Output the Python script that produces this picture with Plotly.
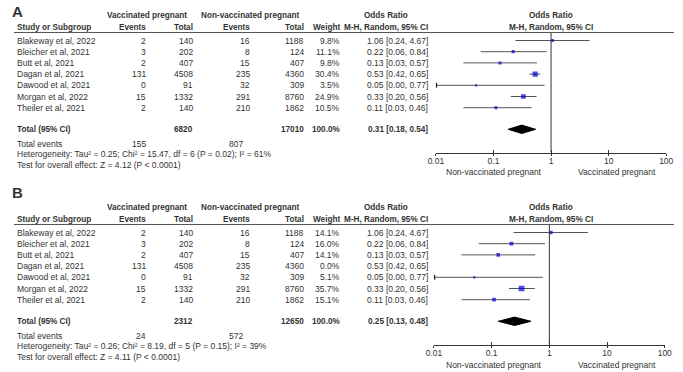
import plotly.graph_objects as go

# ---------------- data ----------------
studies = ["Blakeway et al, 2022", "Bleicher et al, 2021", "Butt et al, 2021", "Dagan et al, 2021",
           "Dawood et al, 2021", "Morgan et al, 2022", "Theiler et al, 2021"]
vac_events = [2, 3, 2, 131, 0, 15, 2]
vac_total = [140, 202, 407, 4508, 91, 1332, 140]
nonvac_events = [16, 8, 15, 235, 32, 291, 210]
nonvac_total = [1188, 124, 407, 4360, 309, 8760, 1862]
or_est = [1.06, 0.22, 0.13, 0.53, 0.05, 0.33, 0.11]
or_lo = [0.24, 0.06, 0.03, 0.42, 0.00, 0.20, 0.03]
or_hi = [4.67, 0.84, 0.57, 0.65, 0.77, 0.56, 0.46]
weights_a = [9.8, 11.1, 9.8, 30.4, 3.5, 24.9, 10.5]
weights_b = [14.1, 16.0, 14.1, 0.0, 5.1, 35.7, 15.1]

totals_a = dict(vac_total=6820, nonvac_total=17010, vac_events=155, nonvac_events=807,
                est=0.31, lo=0.18, hi=0.54,
                het="Heterogeneity: Tau² = 0.25; Chi² = 15.47, df = 6 (P = 0.02); I² = 61%",
                test="Test for overall effect: Z = 4.12 (P < 0.0001)")
totals_b = dict(vac_total=2312, nonvac_total=12650, vac_events=24, nonvac_events=572,
                est=0.25, lo=0.13, hi=0.48,
                het="Heterogeneity: Tau² = 0.26; Chi² = 8.19, df = 5 (P = 0.15); I² = 39%",
                test="Test for overall effect: Z = 4.11 (P < 0.0001)")

tick_vals = [0.01, 0.1, 1, 10, 100]
tick_text = ["0.01", "0.1", "1", "10", "100"]

# ---------------- style / layout ----------------
W, H = 683, 372
FONT = "Liberation Sans, Arial, sans-serif"
TXT = "#333333"
FS = 8.5
FSB = 8.2
BLUE = "#0000cc"
AXMIN = 0.01

fig = go.Figure()
annotations = []
shapes = []


def px(x):
    return x / W


def py(y):
    return 1 - y / H


def text(x, y, s, anchor="left", bold=False, size=None):
    if size is None:
        size = FSB if bold else FS
    annotations.append(dict(
        x=px(x), y=py(y), xref="paper", yref="paper", text=("<b>%s</b>" % s) if bold else s,
        showarrow=False, xanchor=anchor, yanchor="middle", borderpad=0,
        font=dict(family=FONT, size=size, color=TXT)))


def panel(letter, off, letter_y, weights, tot, xa, ya, xover, x0px, x1px):
    # column positions (pixels)
    c_name, c_ve, c_vt, c_ne, c_nt, c_w, c_or = 8, 142, 190.5, 248, 304, 340, 430
    forest_c = 555
    h1, h2, hline = 16 + off, 27.5 + off, 32.5 + off
    row_y = [40.5 + off + 11.2 * i for i in range(len(studies))]
    tot_y, tev_y, het_y, test_y = 129.3 + off, 143.5 + off, 154 + off, 165 + off
    ax_y = 152.5 + off

    text(3, letter_y, letter, bold=True, size=15)
    text((99 + 185) / 2, h1, "Vaccinated pregnant", anchor="center", bold=True)
    text((197 + 298) / 2, h1, "Non-vaccinated pregnant", anchor="center", bold=True)
    text(386, h1, "Odds Ratio", anchor="center", bold=True)
    text(forest_c, h1, "Odds Ratio", anchor="center", bold=True)
    text(c_name, h2, "Study or Subgroup", bold=True)
    text(c_ve, h2, "Events", anchor="right", bold=True)
    text(c_vt, h2, "Total", anchor="right", bold=True)
    text(c_ne, h2, "Events", anchor="right", bold=True)
    text(c_nt, h2, "Total", anchor="right", bold=True)
    text(c_w, h2, "Weight", anchor="right", bold=True)
    text(c_or, h2, "M-H, Random, 95% CI", anchor="right", bold=True)
    text(forest_c, h2, "M-H, Random, 95% CI", anchor="center", bold=True)
    shapes.append(dict(type="line", xref="paper", yref="paper", x0=px(6), x1=px(681),
                       y0=py(hline), y1=py(hline), line=dict(color="#555555", width=1)))

    for i, s in enumerate(studies):
        y = row_y[i]
        text(c_name, y, s)
        text(c_ve, y, str(vac_events[i]), anchor="right")
        text(c_vt, y, str(vac_total[i]), anchor="right")
        text(c_ne, y, str(nonvac_events[i]), anchor="right")
        text(c_nt, y, str(nonvac_total[i]), anchor="right")
        text(c_w, y, "%.1f%%" % weights[i], anchor="right")
        text(c_or, y, "%.2f [%.2f, %.2f]" % (or_est[i], or_lo[i], or_hi[i]), anchor="right")

    text(c_name, tot_y, "Total (95% CI)", bold=True)
    text(c_vt, tot_y, str(tot["vac_total"]), anchor="right", bold=True)
    text(c_nt, tot_y, str(tot["nonvac_total"]), anchor="right", bold=True)
    text(c_w, tot_y, "100.0%", anchor="right", bold=True)
    text(c_or, tot_y, "%.2f [%.2f, %.2f]" % (tot["est"], tot["lo"], tot["hi"]), anchor="right", bold=True)
    text(c_name, tev_y, "Total events")
    text(c_ve, tev_y, str(tot["vac_events"]), anchor="right")
    text(c_ne - 7, tev_y, str(tot["nonvac_events"]), anchor="right")
    text(c_name, het_y, tot["het"])
    text(c_name, test_y, tot["test"])
    text(497, ax_y + 20, "Non-vaccinated pregnant", anchor="center")
    text(623, ax_y + 20, "Vaccinated pregnant", anchor="center")

    # CI lines
    lx, ly = [], []
    arrows_x, arrows_y = [], []
    sq_x, sq_y, sq_s = [], [], []
    for i in range(len(studies)):
        if weights[i] <= 0:
            continue
        lo = max(or_lo[i], AXMIN)
        if or_lo[i] < AXMIN:
            arrows_x.append(AXMIN)
            arrows_y.append(row_y[i])
        lx += [lo, or_hi[i], None]
        ly += [row_y[i], row_y[i], None]
        sq_x.append(or_est[i])
        sq_y.append(row_y[i])
        sq_s.append(max(2.2, 0.95 * weights[i] ** 0.5))
    fig.add_trace(go.Scatter(x=lx, y=ly, mode="lines", line=dict(color="#555555", width=1),
                             xaxis=xa, yaxis=ya, hoverinfo="skip", showlegend=False))
    if arrows_x:
        fig.add_trace(go.Scatter(x=arrows_x, y=arrows_y, mode="markers",
                                 marker=dict(symbol="triangle-left", size=5, color="#222222"),
                                 xaxis=xa, yaxis=ya, showlegend=False))
    fig.add_trace(go.Scatter(x=sq_x, y=sq_y, mode="markers",
                             marker=dict(symbol="square", size=sq_s, color=BLUE, line=dict(width=0)),
                             xaxis=xa, yaxis=ya, showlegend=False))
    # null line at OR = 1
    fig.add_trace(go.Scatter(x=[1, 1], y=[hline, ax_y], mode="lines", line=dict(color="#333333", width=1),
                             xaxis=xa, yaxis=ya, hoverinfo="skip", showlegend=False))
    # pooled diamond
    fig.add_trace(go.Scatter(x=[tot["lo"], tot["est"], tot["hi"], tot["est"], tot["lo"]],
                             y=[tot_y, tot_y - 4.2, tot_y, tot_y + 4.2, tot_y],
                             mode="lines", fill="toself", fillcolor="#000000",
                             line=dict(color="#000000", width=1),
                             xaxis=xa, yaxis=ya, hoverinfo="skip", showlegend=False))
    # invisible trace so the overlay axis (downward tick halves) is drawn
    fig.add_trace(go.Scatter(x=[1], y=[ax_y], mode="markers", marker=dict(opacity=0),
                             xaxis=xover, yaxis=ya, hoverinfo="skip", showlegend=False))

    xname = "xaxis" if xa == "x" else "xaxis" + xa[1:]
    oname = "xaxis" + xover[1:]
    yname = "yaxis" if ya == "y" else "yaxis" + ya[1:]
    fig.update_layout(**{
        xname: dict(type="log", range=[-2, 2], domain=[px(x0px), px(x1px)], anchor=ya,
                    showline=True, linecolor="#333333", linewidth=1, ticks="inside", ticklen=3,
                    tickcolor="#333333", tickvals=tick_vals, ticktext=tick_text, showgrid=False,
                    zeroline=False, tickfont=dict(family=FONT, size=FS, color=TXT), fixedrange=True),
        oname: dict(type="log", range=[-2, 2], overlaying=xa, anchor=ya, showline=False,
                    ticks="outside", ticklen=2, tickcolor="#333333", tickvals=tick_vals,
                    showticklabels=False, showgrid=False, zeroline=False, fixedrange=True),
        yname: dict(range=[ax_y, hline], domain=[py(ax_y), py(hline)], anchor=xa, visible=False,
                    showgrid=False, zeroline=False, fixedrange=True),
    })


panel("A", 0, 12, weights_a, totals_a, "x", "y", "x3", 437.5, 673)
panel("B", 192, 192.5, weights_b, totals_b, "x2", "y2", "x4", 435.5, 671.5)

fig.update_layout(width=W, height=H, margin=dict(l=0, r=0, t=0, b=0),
                  paper_bgcolor="white", plot_bgcolor="rgba(0,0,0,0)",
                  annotations=annotations, shapes=shapes, showlegend=False)

fig.write_html("out.html", config={"displayModeBar": False},
               post_script="document.body.style.margin='0';document.body.style.overflow='hidden';")
